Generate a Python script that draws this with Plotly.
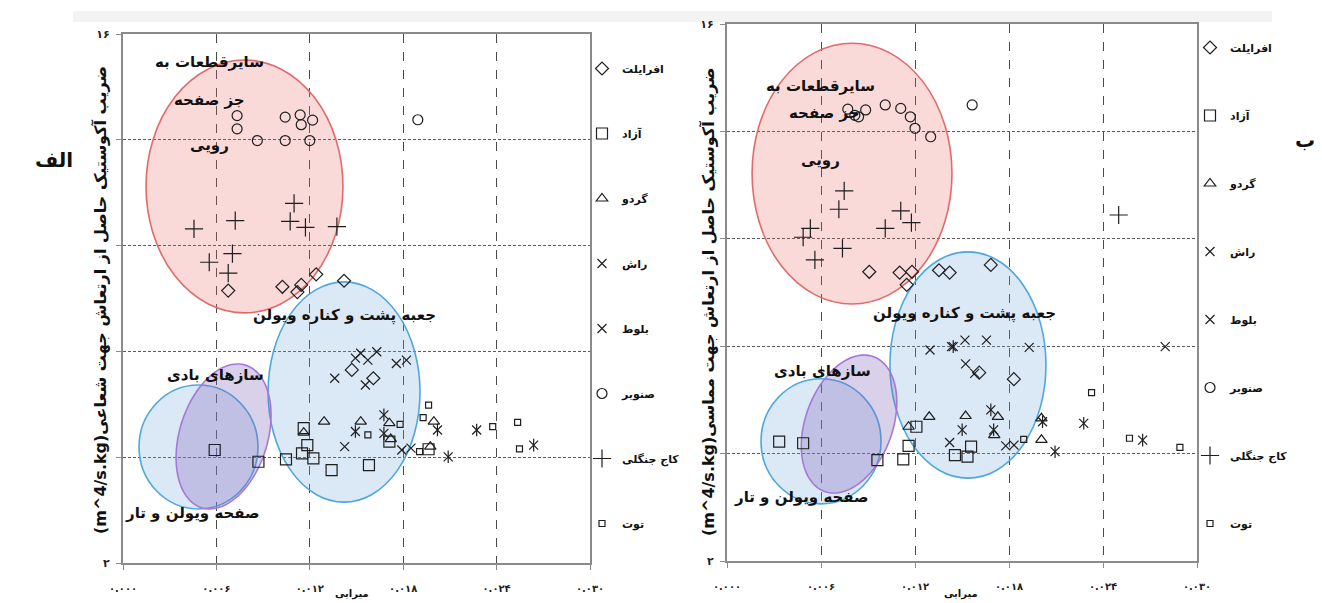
import numpy as np
import plotly.graph_objects as go

# page is 1322x603; the html body adds an 8px margin, so the figure is sized to fit inside it
OFF = 8
WF, HF = 1322 - OFF, 603 - OFF

# ---------------- data ----------------
species = ["افرایلت", "آزاد", "گردو", "راش", "بلوط", "صنوبر", "کاج جنگلی", "توت"]
x_ticks = [0, 0.006, 0.012, 0.018, 0.024, 0.030]
x_tick_text = ["۰.۰۰۰", "۰.۰۰۶", "۰.۰۱۲", "۰.۰۱۸", "۰.۰۲۴", "۰.۰۳۰"]
y_ticks = [2, 4.8, 7.6, 10.4, 13.2, 16]
y_tick_text = ["۲", "", "", "", "", "۱۶"]

# panel الف (radial direction)
a_maple_x = [0.00676, 0.01024, 0.0112, 0.01145, 0.01241, 0.0142, 0.0147, 0.01608]
a_maple_y = [9.21, 9.31, 9.17, 9.36, 9.64, 9.47, 7.11, 6.89]
a_azad_x = [0.00589, 0.0087, 0.01047, 0.0115, 0.01184, 0.01223, 0.0134, 0.0158, 0.01161, 0.01711, 0.01963]
a_azad_y = [4.99, 4.68, 4.74, 4.90, 5.12, 4.77, 4.46, 4.59, 5.57, 5.21, 5.01]
a_walnut_x = [0.01161, 0.01292, 0.01527, 0.01711, 0.01997, 0.01974, 0.0172]
a_walnut_y = [5.45, 5.74, 5.74, 5.70, 5.74, 5.08, 5.28]
a_beech_x = [0.0136, 0.01493, 0.01527, 0.01573, 0.0163, 0.01756, 0.01821, 0.01557, 0.01424, 0.01791, 0.0185]
a_beech_y = [6.89, 7.42, 7.55, 7.37, 7.59, 7.28, 7.37, 6.71, 5.08, 4.99, 5.04]
a_oak_x = [0.01676, 0.01676, 0.0202, 0.02089, 0.02272, 0.02638, 0.01493]
a_oak_y = [5.92, 5.43, 5.52, 4.81, 5.52, 5.12, 5.48]
a_poplar_x = [0.00733, 0.00733, 0.00863, 0.01042, 0.01042, 0.01138, 0.01145, 0.01218, 0.0120, 0.01894]
a_poplar_y = [13.84, 13.49, 13.18, 13.80, 13.18, 13.86, 13.60, 13.72, 13.18, 13.73]
a_pine_x = [0.00456, 0.00721, 0.01099, 0.01074, 0.01172, 0.01374, 0.00554, 0.00703, 0.00676]
a_pine_y = [10.84, 11.06, 11.52, 11.04, 10.88, 10.90, 9.96, 10.19, 9.67]
a_mulberry_x = [0.01963, 0.01928, 0.0178, 0.01573, 0.01905, 0.02375, 0.02535, 0.02547]
a_mulberry_y = [6.18, 5.85, 5.67, 5.39, 4.95, 5.61, 5.72, 5.02]

# panel ب (tangential direction)
b_maple_x = [0.00908, 0.01102, 0.01181, 0.01147, 0.01353, 0.01421, 0.01684, 0.0161, 0.01831]
b_maple_y = [9.54, 9.52, 9.54, 9.20, 9.58, 9.52, 9.72, 6.91, 6.74]
b_azad_x = [0.00333, 0.00486, 0.0096, 0.01125, 0.01159, 0.01209, 0.01455, 0.01535, 0.01558]
b_azad_y = [5.11, 5.07, 4.63, 4.65, 5.0, 5.5, 4.76, 4.72, 4.98]
b_walnut_x = [0.01159, 0.01291, 0.01523, 0.01729, 0.01706, 0.02007, 0.02007]
b_walnut_y = [5.5, 5.76, 5.78, 5.76, 5.28, 5.72, 5.16]
b_beech_x = [0.01296, 0.01433, 0.01519, 0.01656, 0.01929, 0.01523, 0.01581, 0.02797, 0.01421, 0.01779, 0.01832]
b_beech_y = [7.50, 7.59, 7.76, 7.76, 7.57, 7.14, 6.89, 7.59, 5.09, 5.0, 5.02]
b_oak_x = [0.01444, 0.01684, 0.01702, 0.02014, 0.02094, 0.02277, 0.02653, 0.01501]
b_oak_y = [7.59, 5.94, 5.42, 5.63, 4.85, 5.59, 5.15, 5.42]
b_poplar_x = [0.00771, 0.0084, 0.00885, 0.0101, 0.01109, 0.0117, 0.012, 0.013, 0.01565, 0.00816]
b_poplar_y = [13.78, 13.58, 13.76, 13.89, 13.80, 13.58, 13.28, 13.06, 13.89, 13.62]
b_pine_x = [0.00748, 0.00714, 0.00532, 0.00486, 0.00561, 0.00737, 0.0101, 0.01109, 0.01177, 0.025]
b_pine_y = [11.65, 11.17, 10.67, 10.44, 9.85, 10.15, 10.67, 11.13, 10.82, 11.02]
b_mulberry_x = [0.02327, 0.02569, 0.02891, 0.01894]
b_mulberry_y = [6.39, 5.2, 4.96, 5.17]

group_labels = ["سایرقطعات به", "جز صفحه", "رویی", "جعبه پشت و کناره ویولن", "سازهای بادی", "صفحه ویولن و تار"]
y_title_a = "(m^4/s.kg)" + "ضریب آکوستیک حاصل از ارتعاش جهت شعاعی"
y_title_b = "(m^4/s.kg)" + "ضریب آکوستیک حاصل از ارتعاش جهت مماسی"
x_title = "میرایی"
panel_labels = ["الف", "ب"]


# ---------------- layout geometry (page pixels -> paper) ----------------
def fx(px):
    return (px - OFF) / WF


def fy(py):
    return 1 - (py - OFF) / HF


XR = [0, 0.030]
YR = [2, 16]
dom_a_x = [fx(123), fx(590)]
dom_a_y = [fy(563), fy(34)]
dom_b_x = [fx(727), fx(1197)]
dom_b_y = [fy(561), fy(24)]

INK = "#1e1e1e"
FONT = "DejaVu Sans"

symbols = {
    "افرایلت": ("diamond-open", 10),
    "آزاد": ("square-open", 11),
    "گردو": ("triangle-up-open", 10),
    "راش": ("x-thin-open", 9),
    "بلوط": ("x-thin-open", 9),
    "صنوبر": ("circle-open", 10),
    "کاج جنگلی": ("cross-thin-open", 13),
    "توت": ("square-open", 6),
}

panel_a = [
    (a_maple_x, a_maple_y), (a_azad_x, a_azad_y), (a_walnut_x, a_walnut_y), (a_beech_x, a_beech_y),
    (a_oak_x, a_oak_y), (a_poplar_x, a_poplar_y), (a_pine_x, a_pine_y), (a_mulberry_x, a_mulberry_y),
]
panel_b = [
    (b_maple_x, b_maple_y), (b_azad_x, b_azad_y), (b_walnut_x, b_walnut_y), (b_beech_x, b_beech_y),
    (b_oak_x, b_oak_y), (b_poplar_x, b_poplar_y), (b_pine_x, b_pine_y), (b_mulberry_x, b_mulberry_y),
]

fig = go.Figure()


def add_panel(data, xa, ya, legend_name):
    for i, (name, (xs, ys)) in enumerate(zip(species, data)):
        sym, size = symbols[name]
        fig.add_trace(go.Scatter(
            x=xs, y=ys, mode="markers", name=name, xaxis=xa, yaxis=ya,
            legend=legend_name, legendgroup=legend_name + str(i),
            marker=dict(symbol=sym, size=size, color=INK, line=dict(color=INK, width=1.2)),
            hoverinfo="x+y+name",
        ))
        if name == "بلوط":
            fig.add_trace(go.Scatter(
                x=xs, y=ys, mode="markers", name=name, xaxis=xa, yaxis=ya,
                legend=legend_name, legendgroup=legend_name + str(i), showlegend=False,
                marker=dict(symbol="line-ns-open", size=9, color=INK, line=dict(color=INK, width=1.2)),
                hoverinfo="skip",
            ))


add_panel(panel_a, "x", "y", "legend")
add_panel(panel_b, "x2", "y2", "legend2")

# ---------------- ellipses ----------------
shapes = []


def scale(dom_x, dom_y):
    sx = (dom_x[1] - dom_x[0]) * WF / (XR[1] - XR[0])
    sy = (dom_y[1] - dom_y[0]) * HF / (YR[1] - YR[0])
    return sx, sy


def ellipse(xref, yref, x0, x1, y0, y1, fill, line):
    shapes.append(dict(type="circle", xref=xref, yref=yref, x0=x0, x1=x1, y0=y0, y1=y1,
                       fillcolor=fill, line=dict(color=line, width=1.6), layer="between"))


def tilted(xref, yref, cx, cy, a_px, b_px, tilt, dom_x, dom_y, fill, line):
    sx, sy = scale(dom_x, dom_y)
    t = np.linspace(0, 2 * np.pi, 90)
    th = np.radians(tilt)
    u = b_px * np.cos(t)
    v = a_px * np.sin(t)
    xp = u * np.cos(th) + v * np.sin(th)
    yp = -u * np.sin(th) + v * np.cos(th)
    xs = cx + xp / sx
    ys = cy + yp / sy
    path = "M " + " L ".join(f"{a:.6f},{b:.4f}" for a, b in zip(xs, ys)) + " Z"
    shapes.append(dict(type="path", xref=xref, yref=yref, path=path,
                       fillcolor=fill, line=dict(color=line, width=1.6), layer="between"))


RED_F, RED_L = "rgba(235,95,95,0.24)", "#e36a6a"
BLUE_F, BLUE_L = "rgba(110,165,220,0.25)", "#4ea8de"
PUR_F, PUR_L = "rgba(130,100,185,0.30)", "#a678d6"

# panel الف
ellipse("x", "y", 0.00148, 0.01413, 8.62, 15.31, RED_F, RED_L)
ellipse("x", "y", 0.00932, 0.01908, 3.61, 9.44, BLUE_F, BLUE_L)
ellipse("x", "y", 0.00103, 0.00867, 3.43, 6.71, BLUE_F, BLUE_L)
tilted("x", "y", 0.00646, 5.35, 74.6, 44.1, 17, dom_a_x, dom_a_y, PUR_F, PUR_L)
# panel ب
ellipse("x2", "y2", 0.00160, 0.01436, 8.70, 15.50, RED_F, RED_L)
ellipse("x2", "y2", 0.01040, 0.02036, 4.16, 10.06, BLUE_F, BLUE_L)
ellipse("x2", "y2", 0.00217, 0.00983, 3.49, 6.75, BLUE_F, BLUE_L)
tilted("x2", "y2", 0.00779, 5.57, 71.7, 43.6, 20, dom_b_x, dom_b_y, PUR_F, PUR_L)

# top page strip (screenshot edge)
shapes.append(dict(type="rect", xref="paper", yref="paper", x0=fx(73), x1=fx(1272),
                   y0=fy(22), y1=fy(11), fillcolor="#f3f3f3", line=dict(width=0), layer="below"))

# ---------------- annotations ----------------
ann = []


def text(px, py, s, size=15, angle=0, bold=True, color="#111"):
    ann.append(dict(x=fx(px), y=fy(py), xref="paper", yref="paper", text=s, showarrow=False,
                    textangle=angle, xanchor="center", yanchor="middle",
                    font=dict(family=FONT, size=size, color=color, weight="bold" if bold else "normal")))


# group labels panel الف
text(209, 62, group_labels[0])
text(209, 100, group_labels[1])
text(209, 145, group_labels[2])
text(344, 315, group_labels[3])
text(215, 375, group_labels[4])
text(192, 513, group_labels[5])
# group labels panel ب
text(820, 86, group_labels[0])
text(824, 113, group_labels[1])
text(820, 160, group_labels[2])
text(964, 314, group_labels[3])
text(822, 371, group_labels[4])
text(801, 497, group_labels[5])

# axis titles
text(100, 300, y_title_a, size=16, angle=-90)
text(708, 302, y_title_b, size=16, angle=-90)
text(352, 594, x_title, size=10)
text(961, 594, x_title, size=10)

# panel labels
text(54, 160, panel_labels[0], size=20)
text(1305, 140, panel_labels[1], size=20)

axis_common = dict(range=XR, tickvals=x_ticks, ticktext=x_tick_text, showgrid=True, automargin=False,
                   gridcolor="#4a4a4a", griddash="dash", gridwidth=1.2, zeroline=False,
                   showline=True, linecolor="#8a8a8a", linewidth=2, mirror=True,
                   ticks="outside", ticklen=5, tickcolor="#8a8a8a", ticklabelstandoff=10,
                   tickfont=dict(family=FONT, size=10, color="#222", weight="bold"))
yaxis_common = dict(range=YR, tickvals=y_ticks, ticktext=y_tick_text, showgrid=True, automargin=False,
                    gridcolor="#5a5a5a", griddash="3px,2px", gridwidth=1, zeroline=False,
                    showline=True, linecolor="#8a8a8a", linewidth=2, mirror=True,
                    ticks="outside", ticklen=5, tickcolor="#8a8a8a", ticklabelstandoff=4,
                    tickfont=dict(family=FONT, size=11, color="#222", weight="bold"))

legend_common = dict(xanchor="left", yanchor="top", bgcolor="rgba(0,0,0,0)",
                     font=dict(family=FONT, size=11, color="#111", weight="bold"),
                     itemwidth=30, traceorder="grouped")

fig.update_layout(
    width=WF, height=HF, margin=dict(l=0, r=0, t=0, b=0, autoexpand=False),
    paper_bgcolor="white", plot_bgcolor="white",
    showlegend=True,
    xaxis=dict(domain=dom_a_x, anchor="y", **axis_common),
    yaxis=dict(domain=dom_a_y, anchor="x", **yaxis_common),
    xaxis2=dict(domain=dom_b_x, anchor="y2", **axis_common),
    yaxis2=dict(domain=dom_b_y, anchor="x2", **yaxis_common),
    legend=dict(x=fx(582), y=fy(54), tracegroupgap=46, **legend_common),
    legend2=dict(x=fx(1190), y=fy(33), tracegroupgap=49, **legend_common),
    shapes=shapes,
    annotations=ann,
)

fig.write_html("out.html")
